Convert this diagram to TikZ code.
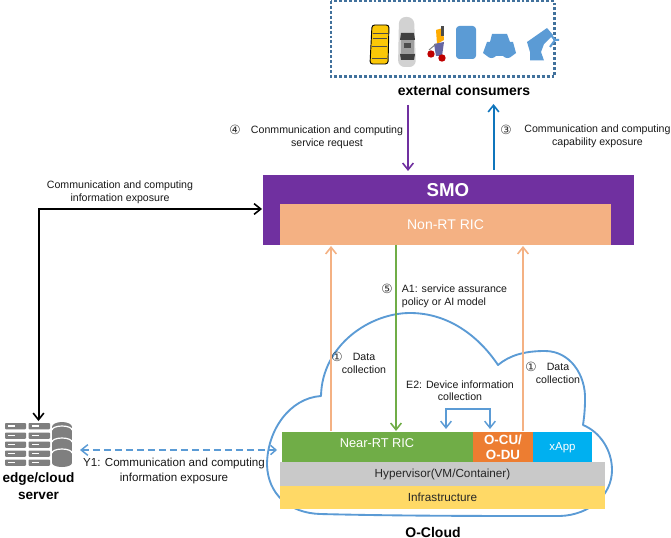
\documentclass[tikz,border=0pt]{standalone}
\usepackage{fontspec}
\setmainfont{Liberation Sans}
\newfontfamily\dv{DejaVu Sans}
\usetikzlibrary{arrows.meta}
\definecolor{smo}{HTML}{7030A0}
\definecolor{peach}{HTML}{F4B183}
\definecolor{grn}{HTML}{70AD47}
\definecolor{orng}{HTML}{ED7D31}
\definecolor{cyanb}{HTML}{00B0F0}
\definecolor{gry}{HTML}{C9C9C9}
\definecolor{yel}{HTML}{FFD966}
\definecolor{cloudb}{HTML}{5B9BD5}
\definecolor{dotb}{HTML}{41719C}
\definecolor{upb}{HTML}{0F75BC}
\definecolor{srv}{HTML}{7F7F7F}
\tikzset{
 x=0.75pt,y=-0.75pt,
 lbl/.style={font=\fontsize{7.95}{10}\selectfont,align=center,inner sep=0,text=black!90},
 lblt/.style={font=\fontsize{7.95}{9.2}\selectfont,align=center,inner sep=0,text=black!90},
 bold/.style={font=\fontsize{10.5}{12.5}\bfseries\selectfont,align=center,inner sep=0},
 blk/.style={inner sep=0,outer sep=0,text=white,font=\fontsize{10.5}{13}\selectfont,align=center},
 arr/.style={line width=1.5pt,-{Straight Barb[length=5pt,width=8pt,line width=1.2pt]}},
 num/.style={font=\dv\fontsize{9.5}{10}\selectfont,inner sep=0,text=black!80},
 ic/.style={fill=cloudb,draw=none},
}
\begin{document}
\begin{tikzpicture}
\useasboundingbox (0,0) rectangle (671,538);
\fill[white] (0,0) rectangle (671,538);
% consumers box
\draw[dotb,line width=2pt,dash pattern=on 2.2pt off 1.5pt] (331,1) rectangle (554.5,76.5);
\node[bold] (cons) at (464,90) {external consumers};
% yellow car
\draw[black,fill=yellow!60!orange,line width=0.7pt,rounded corners=2pt] (372,25) -- (389,25) -- (388,64) -- (370,64) -- cycle;
\draw[black!70,line width=0.5pt] (373,33) -- (388,33) (373,38) -- (387,38) (372,46) -- (387,46) (372,58) -- (387,58);
% grey car
\fill[gray!35,rounded corners=5pt] (399,17) -- (414,17) -- (416,67) -- (398,67) -- cycle;
\fill[black!75] (401,33) -- (414,33) -- (415,40) -- (400,40) -- cycle;
\fill[black!75] (400,54) -- (415,54) -- (414,60) -- (401,60) -- cycle;
\fill[gray!75] (401,40) rectangle (414,54);
\fill[black!70] (404,43) rectangle (411,48);
% scooter
\fill[orange!65!yellow] (436,30) -- (443,28) -- (444,40) -- (437,44) -- cycle;
\fill[black!70] (441,26) rectangle (444,36);
\fill[blue!40!black!60] (434,44) -- (444,42) -- (442,56) -- (436,56) -- cycle;
\draw[gray,line width=0.7pt] (429,50) -- (436,44);
\fill[red!75!black] (431,54) circle (3.7);
\fill[red!75!black] (442,58) circle (3.7);
% phone
\fill[cloudb,rounded corners=2.5pt] (456,26) rectangle (476,59);
% car front
\fill[ic] (492,34) -- (507,34) -- (510,42) -- (513,42) -- (516,53) -- (512,56) to[bend left=50] (503,56) -- (496,56) to[bend left=50] (487,56) -- (483,53) -- (487,42) -- (490,42) -- cycle;
% robot arm
\fill[ic] (530,60.5) -- (530,52) -- (527,42) -- (547,28) -- (553,35) -- (544,44) -- (541,52) -- (544,60.5) -- cycle;
\draw[cloudb,line width=1.5pt] (550,34) -- (555,40) -- (559,40) (555,40) -- (550,47);
% SMO
\node[blk,fill=smo,minimum width=371*0.75pt,minimum height=70*0.75pt,anchor=north west] (smo) at (263,175) {};
\node[bold,text=white,font=\fontsize{14}{14}\bfseries\selectfont] (smot) at (448,190) {SMO};
\node[blk,fill=peach,minimum width=331*0.75pt,minimum height=41*0.75pt,anchor=north west] (nonrt) at (280,204) {Non-RT RIC};
% cloud
\draw[cloudb,line width=1.4pt,line join=round] (321,396)
 .. controls (322,345) and (370,313) .. (410,313)
 .. controls (450,313) and (480,338) .. (498,365)
 .. controls (510,355) and (525,351) .. (545,351)
 .. controls (570,351) and (586,375) .. (585,400)
 .. controls (585,410) and (584,418) .. (583,425)
 .. controls (600,432) and (612,450) .. (612,470)
 .. controls (612,495) and (590,515) .. (560,516)
 .. controls (480,516) and (400,516) .. (320,514)
 .. controls (290,513) and (268,495) .. (267,465)
 .. controls (267,430) and (290,398) .. (321,396) -- cycle;
% blocks
\node[blk,fill=grn,minimum width=191*0.75pt,minimum height=31*0.75pt,anchor=north west] (near) at (282,432) {};
\node[blk,font=\fontsize{9.6}{11}\selectfont] (neart) at (377,443) {Near-RT RIC};
\node[blk,fill=orng,minimum width=60*0.75pt,minimum height=31*0.75pt,anchor=north west,font=\fontsize{10}{11.25}\bfseries\selectfont] (ocu) at (473,432) {O-CU/\\O-DU};
\node[blk,fill=cyanb,minimum width=59*0.75pt,minimum height=31*0.75pt,anchor=north west,font=\fontsize{8.6}{11}\selectfont] (xapp) at (533,432) {xApp};
\node[blk,fill=gry,minimum width=325*0.75pt,minimum height=24*0.75pt,anchor=north west,text=black!85,font=\fontsize{8.8}{10}\selectfont] (hyp) at (280,462) {Hypervisor(VM/Container)};
\node[blk,fill=yel,minimum width=325*0.75pt,minimum height=23*0.75pt,anchor=north west,text=black!85,font=\fontsize{8.8}{10}\selectfont] (infra) at (280,486) {Infrastructure};
\node[bold] (ocl) at (433,532) {O-Cloud};
% server icon
\foreach \yy in {423,432.5,441.5,450.5,459.5}{
 \fill[srv,rounded corners=0.7pt] (5,\yy) rectangle (26,\yy+6.3);
 \fill[srv,rounded corners=0.7pt] (28.5,\yy) rectangle (50,\yy+6.3);
 \fill[white] (8,\yy+2.2) rectangle (15,\yy+3.6);
 \fill[white] (31.5,\yy+2.2) rectangle (38.5,\yy+3.6);
}
\fill[srv] (52,427) rectangle (72,463);
\fill[srv] (62,427) ellipse (10 and 5);
\fill[srv] (62,463) ellipse (10 and 4);
\draw[white,line width=0.9pt] (52,430) arc[start angle=180,end angle=360,x radius=10,y radius=4];
\draw[white,line width=0.9pt] (52,442) arc[start angle=180,end angle=360,x radius=10,y radius=4];
\draw[white,line width=0.9pt] (52,453) arc[start angle=180,end angle=360,x radius=10,y radius=4];
\coordinate (srvtop) at (38.5,421);
\node[bold,font=\fontsize{10.2}{12.5}\bfseries\selectfont] (edge) at (38.5,486) {edge/cloud\\server};
% connectors
\coordinate (c1) at (408,171); \coordinate (c2) at (408,105);
\draw[arr,smo] (c2) -- (c1);
\coordinate (c3) at (493.5,170); \coordinate (c4) at (493.5,104);
\draw[arr,upb] (c3) -- (c4);
\coordinate (smoin) at (262,209);
\draw[line width=1.5pt,black,{Straight Barb[length=5pt,width=8pt,line width=1.2pt]}-{Straight Barb[length=5pt,width=8pt,line width=1.2pt]}] (srvtop) |- (smoin);
\coordinate (a1) at (331,431); \coordinate (a1t) at (331,246);
\draw[arr,peach] (a1) -- (a1t);
\coordinate (a2) at (523,431); \coordinate (a2t) at (523,246);
\draw[arr,peach] (a2) -- (a2t);
\coordinate (g1) at (396,245); \coordinate (g1t) at (396,431);
\draw[arr,grn] (g1) -- (g1t);
% E2
\coordinate (e1) at (446,429); \coordinate (e2) at (490,429);
\draw[cloudb,line width=1.4pt,{Straight Barb[length=5pt,width=8pt,line width=1.1pt]}-{Straight Barb[length=5pt,width=8pt,line width=1.1pt]}] (e1) -- (446,409) -- (490,409) -- (e2);
% Y1
\coordinate (y1) at (80,450); \coordinate (y2) at (277,450);
\draw[cloudb,line width=1.5pt,dash pattern=on 5.25pt off 3pt,{Straight Barb[length=5pt,width=8pt,line width=1.1pt]}-{Straight Barb[length=4pt,width=7pt,line width=1.1pt]}] (y1) -- (y2);
% labels
\node[num] (n4) at (235,130) {④};
\node[lbl] (t4) at (327,137) {Conmmunication and computing\\service request};
\node[num] (n3) at (506,130) {③};
\node[lbl] (t3) at (597.5,136.5) {Communication and computing\\capability exposure};
\node[lbl] (tl) at (120,192.5) {Communication and computing\\information exposure};
\node[num] (n5) at (387,289) {⑤};
\node[lbl,align=left] (t5) at (454.5,296) {A1: service assurance\\policy or AI model};
\node[num] (n1a) at (337,357) {①};
\node[lblt] (t1a) at (364,363.5) {Data\\collection};
\node[num] (n1b) at (531,367) {①};
\node[lblt] (t1b) at (558,373.5) {Data\\collection};
\node[lblt] (te2) at (460,390.5) {E2: Device information\\collection};
\node[lbl,font=\fontsize{8.7}{11.5}\selectfont] (ty1) at (174,471) {Y1: Communication and computing\\information exposure};
\end{tikzpicture}
\end{document}
